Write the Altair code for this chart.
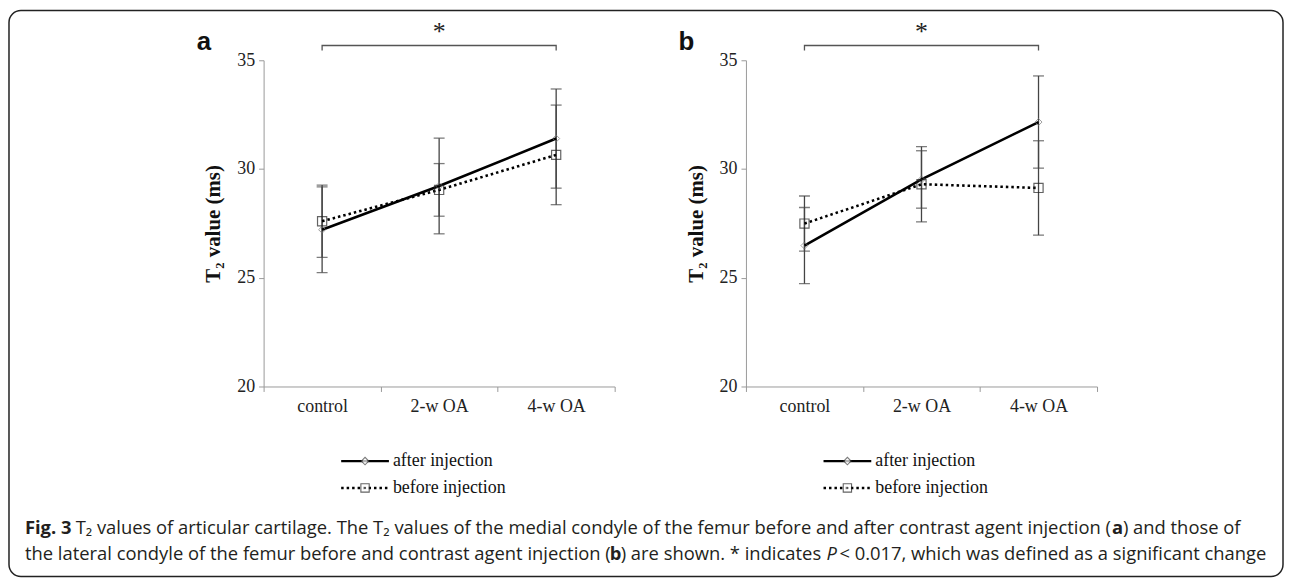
import altair as alt
import pandas as pd

cats = ["control", "2-w OA", "4-w OA"]
series = ["after injection", "before injection"]

# panel a (medial condyle)
a_after_mean = [27.21, 29.22, 31.40]
a_after_sd = [1.97, 2.20, 2.28]
a_before_mean = [27.60, 29.04, 30.65]
a_before_sd = [1.66, 1.21, 2.29]

# panel b (lateral condyle)
b_after_mean = [26.48, 29.52, 32.16]
b_after_sd = [1.75, 1.32, 2.12]
b_before_mean = [27.49, 29.30, 29.13]
b_before_sd = [1.27, 1.73, 2.17]

y_ticks = [20, 25, 30, 35]
panel_letters = ["a", "b"]
y_title = "T\u2082 value (ms)"
sig_star = "*"
bracket_cats = ["control", "control", "4-w OA", "4-w OA"]
bracket_vals = [35.45, 35.68, 35.68, 35.45]
star_val = 36.3

caption1 = [("Fig. 3", "bold"),
            ("T\u2082 values of articular cartilage. The T\u2082 values of the medial condyle of the femur before and after contrast agent injection (", "normal"),
            ("a", "bold"),
            (") and those of", "normal")]
caption2 = [("the lateral condyle of the femur before and contrast agent injection (", "normal"),
            ("b", "bold"),
            (") are shown. * indicates", "normal"),
            ("P", "italic"),
            ("< 0.017, which was defined as a significant change", "normal")]
# x anchors (page px) of caption segments
cap1_x = [25, 76, 1118, 1129]
cap2_x = [25, 613, 624, 831, 844]

SERIF = "Liberation Serif"
SANS = "Open Sans"
PX0, PY0 = 265, 58  # panel a plot origin (page coords), used for decorations


def one(v):
    return pd.DataFrame({"t": [v]})


def panel(after_m, after_sd, before_m, before_sd, letter, first):
    rows = []
    for s, m, sd in [(series[0], after_m, after_sd), (series[1], before_m, before_sd)]:
        for c, mm, ss in zip(cats, m, sd):
            rows.append({"cat": c, "series": s, "mean": mm, "lo": mm - ss, "hi": mm + ss})
    df = pd.DataFrame(rows)

    x = alt.X("cat:N", sort=cats,
              scale=alt.Scale(domain=cats, paddingInner=0, paddingOuter=0),
              axis=alt.Axis(title=None, labelAngle=0, tickBand="extent", tickSize=5,
                            labelPadding=6, labelFont=SERIF, labelFontSize=18,
                            labelColor="#222", domainColor="#999", tickColor="#999"))
    yscale = alt.Scale(domain=[20, 35], nice=False, zero=False)

    base = alt.Chart(df)
    err = base.mark_rule(color="#444", strokeWidth=1.3).encode(
        x=x,
        y=alt.Y("lo:Q", scale=yscale,
                axis=alt.Axis(values=y_ticks, title=y_title, tickSize=5, labelPadding=4,
                              labelFont=SERIF, labelFontSize=18, labelColor="#222",
                              titleFont=SERIF, titleFontSize=21, titleFontWeight="bold",
                              titleColor="#111", titlePadding=13,
                              domainColor="#999", tickColor="#999", grid=False)),
        y2="hi:Q")
    cap_lo = base.mark_tick(orient="horizontal", size=11, thickness=1.3, color="#444").encode(
        x="cat:N", y="lo:Q")
    cap_hi = base.mark_tick(orient="horizontal", size=11, thickness=1.3, color="#444").encode(
        x="cat:N", y="hi:Q")
    line_after = base.transform_filter(alt.datum.series == series[0]).mark_line(
        color="black", strokeWidth=2.6).encode(x="cat:N", y="mean:Q")
    line_before = base.transform_filter(alt.datum.series == series[1]).mark_line(
        color="black", strokeWidth=2.6, strokeDash=[2.5, 3]).encode(x="cat:N", y="mean:Q")
    pt_after = base.transform_filter(alt.datum.series == series[0]).mark_point(
        shape="diamond", size=50, color="#777", filled=False, strokeWidth=1).encode(
        x="cat:N", y="mean:Q")
    pt_before = base.transform_filter(alt.datum.series == series[1]).mark_point(
        shape="square", size=85, color="#222", filled=False, strokeWidth=1.2).encode(
        x="cat:N", y="mean:Q")

    br = alt.Chart(pd.DataFrame({"cat": bracket_cats, "v": bracket_vals,
                                 "o": list(range(len(bracket_cats)))})).mark_line(
        color="#555", strokeWidth=1.3).encode(x="cat:N", y="v:Q", order="o:O")
    star = alt.Chart(one(sig_star)).mark_text(font=SERIF, fontSize=26, color="#222",
                                              baseline="middle").encode(
        x=alt.datum(cats[1]), y=alt.datum(star_val), text="t:N")

    lab = alt.Chart(one(letter)).mark_text(font="Liberation Sans", fontSize=26,
                                           fontWeight="bold", color="#111",
                                           align="center", baseline="alphabetic").encode(
        x=alt.value(-60), y=alt.value(-10), text="t:N")

    # manual legend
    leg = []
    for i, s in enumerate(series):
        yy = 403 + 27 * i
        if i == 0:
            leg.append(alt.Chart(one(s)).mark_rule(color="black", strokeWidth=2.4).encode(
                x=alt.value(78), x2=alt.value(126), y=alt.value(yy)))
            leg.append(alt.Chart(one(s)).mark_point(shape="diamond", size=55, filled=True,
                                                    fill="white", stroke="#444",
                                                    strokeWidth=1.1).encode(
                x=alt.value(102), y=alt.value(yy)))
        else:
            leg.append(alt.Chart(one(s)).mark_rule(color="black", strokeWidth=2.4,
                                                   strokeDash=[2.5, 3]).encode(
                x=alt.value(78), x2=alt.value(126), y=alt.value(yy)))
            leg.append(alt.Chart(one(s)).mark_point(shape="square", size=70, filled=True,
                                                    fill="white", stroke="#222",
                                                    strokeWidth=1.1).encode(
                x=alt.value(102), y=alt.value(yy)))
            leg.append(alt.Chart(one(s)).mark_point(shape="square", size=4, filled=True,
                                                    color="#222").encode(
                x=alt.value(102), y=alt.value(yy)))
        leg.append(alt.Chart(one(s)).mark_text(font=SERIF, fontSize=18, color="#111",
                                               align="left", baseline="middle").encode(
            x=alt.value(130), y=alt.value(yy), text="t:N"))

    layers = [err, cap_lo, cap_hi, line_before, line_after, pt_after, pt_before, br, star, lab] + leg

    if first:
        frame = alt.Chart(one("frame")).mark_rect(fillOpacity=0, stroke="#222", strokeWidth=1.5,
                                                  cornerRadius=12).encode(
            x=alt.value(9 - PX0), x2=alt.value(1290 - PX0),
            y=alt.value(8 - PY0), y2=alt.value(577 - PY0))
        layers.append(frame)
        for segs, xs, yb in [(caption1, cap1_x, 534), (caption2, cap2_x, 560)]:
            for (txt, style), xx in zip(segs, xs):
                layers.append(alt.Chart(one(txt)).mark_text(
                    font=SANS, fontSize=18.5, color="#231f20", align="left",
                    baseline="alphabetic",
                    fontWeight="bold" if style == "bold" else "normal",
                    fontStyle="italic" if style == "italic" else "normal").encode(
                    x=alt.value(xx - PX0), y=alt.value(yb - PY0), text="t:N"))

    return alt.layer(*layers).properties(width=353, height=328)


pa = panel(a_after_mean, a_after_sd, a_before_mean, a_before_sd, panel_letters[0], True)
pb = panel(b_after_mean, b_after_sd, b_before_mean, b_before_sd, panel_letters[1], False)

chart = alt.hconcat(pa, pb, spacing=132, bounds="flush").properties(padding=0).configure_view(
    stroke=None).configure_axis(grid=False)

chart.save("out.html", embed_options={"renderer": "svg", "actions": False})
